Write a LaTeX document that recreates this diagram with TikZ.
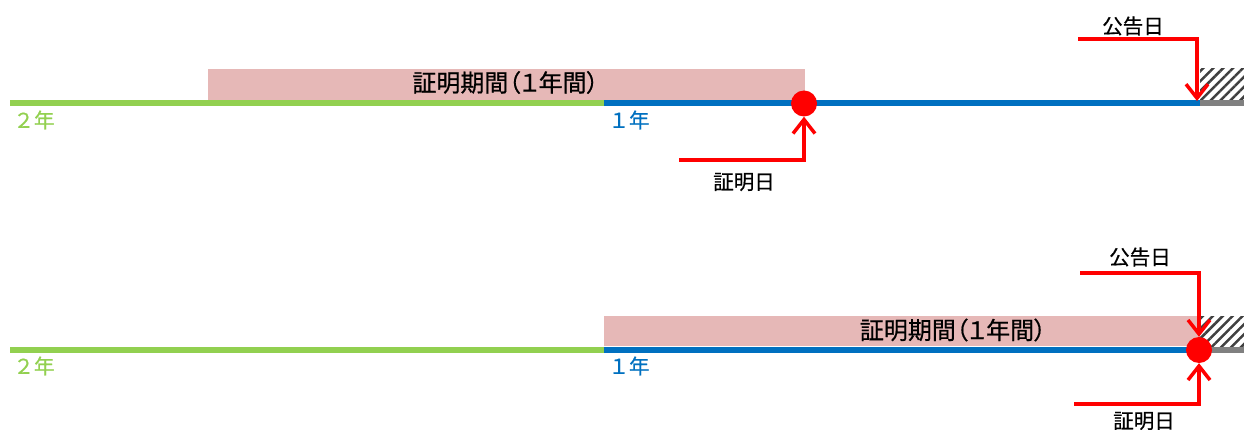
\documentclass[tikz,border=0pt]{standalone}
\usepackage{fontspec}
\setmainfont{Noto Sans CJK JP}[FakeBold=0.6]
\newfontfamily\periodfont{Noto Sans CJK JP}[FakeBold=0.6,RawFeature=+palt]
\usetikzlibrary{arrows.meta,patterns.meta}
\definecolor{yeargreen}{HTML}{92D050}
\definecolor{yearblue}{HTML}{0070C0}
\definecolor{periodpink}{HTML}{E6B8B7}
\definecolor{pastgray}{HTML}{808080}

\begin{document}
\begin{tikzpicture}[x=1pt,y=-1pt,
        yearline/.style={line width=6pt},
        hatchbox/.style={pattern={Lines[angle=45,distance=7pt,line width=2.5pt]},pattern color=black!75},
        datedot/.style={circle,fill=red,inner sep=0pt,minimum size=26pt},
        datearrow/.style={draw=red,line width=3.5pt,-{Straight Barb[length=14pt,width=22pt]}},
        lbl/.style={font=\fontsize{20.5}{24}\selectfont},
        periodlbl/.style={black,font=\periodfont\fontsize{24}{28}\selectfont}]
        \useasboundingbox (0,0) rectangle (1244,430);

        \fill[periodpink] (208,69) rectangle (805,100) node[pos=.5,periodlbl,xshift=-1pt,yshift=2pt] (topperiod) {証明期間（１年間）};
        \fill[hatchbox] (1200,69) rectangle (1244,100);
        \draw[yearline,yeargreen] (10,103.5) -- (604,103.5);
        \draw[yearline,yearblue] (604,103.5) -- (1200,103.5);
        \draw[yearline,pastgray] (1200,103.5) -- (1244,103.5);
        \node[lbl,yeargreen] (toptwo) at (34,120) {２年};
        \node[lbl,yearblue] (topone) at (629,120) {１年};
        \node[datedot] (topproof) at (804,103.5) {};
        \coordinate (topproofstart) at (679,160);
        \draw[datearrow] (topproofstart) -| (topproof);
        \node[lbl] (topprooflabel) at (744,182) {証明日};
        \coordinate (topnoticestart) at (1078,39);
        \coordinate (topnotice) at (1197,101);
        \draw[datearrow] (topnoticestart) -| (topnotice);
        \node[lbl] (topnoticelabel) at (1133,26) {公告日};

        \fill[periodpink] (604,316) rectangle (1200,346) node[pos=.5,periodlbl,xshift=51pt,yshift=1pt] (bottomperiod) {証明期間（１年間）};
        \fill[hatchbox] (1200,316) rectangle (1244,346);
        \draw[yearline,yeargreen] (10,349.5) -- (604,349.5);
        \draw[yearline,yearblue] (604,349.5) -- (1200,349.5);
        \draw[yearline,pastgray] (1200,349.5) -- (1244,349.5);
        \node[lbl,yeargreen] (bottomtwo) at (34,366) {２年};
        \node[lbl,yearblue] (bottomone) at (629,366) {１年};
        \node[datedot] (bottomproof) at (1199,350) {};
        \coordinate (bottomnoticestart) at (1080,273);
        \draw[datearrow] (bottomnoticestart) -| (bottomproof);
        \node[lbl] (bottomnoticelabel) at (1140,257) {公告日};
        \coordinate (bottomproofstart) at (1074,404);
        \draw[datearrow] (bottomproofstart) -| (bottomproof);
        \node[lbl] (bottomprooflabel) at (1144,421) {証明日};
    	\end{tikzpicture}
\end{document}
